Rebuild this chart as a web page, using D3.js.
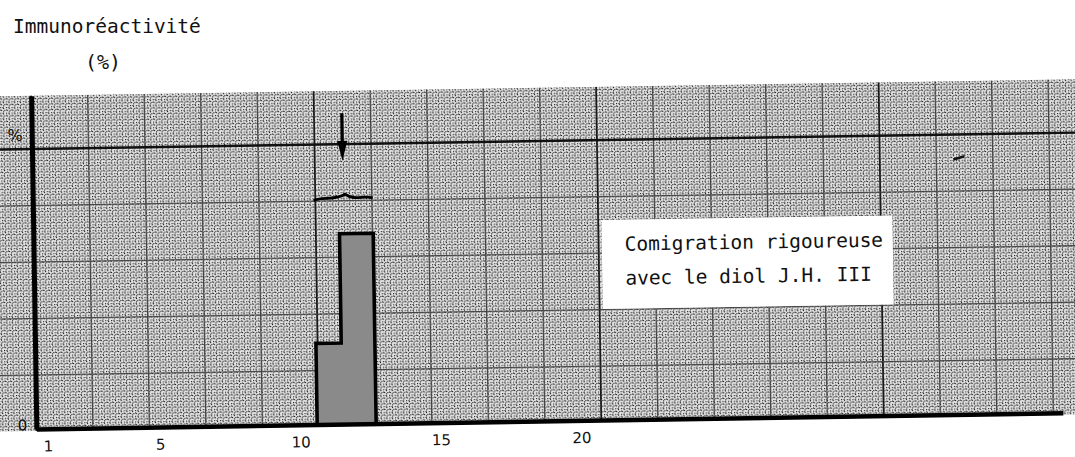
<!DOCTYPE html>
<html>
<head>
<meta charset="utf-8">
<script src="https://cdn.jsdelivr.net/npm/d3@7"></script>
<style>
body { margin: 0; background: #fff; }
svg { display: block; }
text { font-family: "DejaVu Sans Mono", monospace; fill: #111; }
</style>
</head>
<body>
<svg id="chart" width="1075" height="457"></svg>
<script>
"use strict";
// fractions on x, immunoreactivity (%) on y
var fractionTicks = [1, 5, 10, 15, 20];
var yTickValues = [0, 100];
var yTickLabels = ["0", "%"];
var binStart = [10.6, 11.5];
var binEnd = [11.5, 12.7];
var binValue = [29, 68];
var markerFraction = 11.65;   // diol J.H. III
var markerFrom = 111, markerTo = 94;
var braceValue = 81;
var titleText = "Immunoréactivité";
var unitText = "(%)";
var noteLines = ["Comigration rigoureuse", "avec le diol J.H. III"];

var bins = binStart.map(function (s, i) { return {lo: s, hi: binEnd[i], v: binValue[i]}; });

var svg = d3.select("#chart");
var x = d3.scaleLinear().domain([0.6, 37.15]).range([33.75, 1060.4]);
var y = d3.scaleLinear().domain([0, 119]).range([421, 87.8]);
var mm = 5.65;
var x0 = x.range()[0], y0 = y(100);

// millimetre paper halftone
var pat = svg.append("defs").append("pattern").attr("id", "mmpaper")
  .attr("patternUnits", "userSpaceOnUse").attr("width", mm).attr("height", mm)
  .attr("x", x0 - mm / 2).attr("y", y0 - mm / 2);
var c = mm / 2;
[[c - 1.9, c], [c + 1.2, c], [c, c - 1.9], [c, c + 1.2], [0, c - 0.5], [c - 0.5, 0], [0, 0]].forEach(function (p) {
  pat.append("rect").attr("x", p[0]).attr("y", p[1]).attr("width", 1.1).attr("height", 1.1).attr("fill", "#1e1e1e");
});

svg.append("text").attr("x", 13).attr("y", 33).style("font-size", "19.5px").text(titleText);
svg.append("text").attr("x", 85).attr("y", 69).style("font-size", "20px").text(unitText);

// the scan is slightly tilted
var g = svg.append("g").attr("transform", "rotate(-0.9,540,260)");

var paperTop = y.range()[1], paperBottom = y(0) + 2;
g.append("rect").attr("x", -30).attr("y", paperTop).attr("width", 1140)
  .attr("height", paperBottom - paperTop).attr("fill", "#e4e4e4");
g.append("rect").attr("x", -30).attr("y", paperTop).attr("width", 1140)
  .attr("height", paperBottom - paperTop).attr("fill", "url(#mmpaper)");

function gridStyle(k) {
  if (k % 50 === 0) return {c: "#1a1a1a", w: 1.7};
  return {c: "#444", w: 1.1};
}
var vk = d3.range(-10, 200, 10), hk = d3.range(-10, 60, 10);

g.append("g").selectAll("line").data(vk).join("line")
  .attr("x1", function (k) { return x0 + k * mm; })
  .attr("x2", function (k) { return x0 + k * mm; })
  .attr("y1", paperTop).attr("y2", paperBottom)
  .attr("stroke", function (k) { return gridStyle(k).c; })
  .attr("stroke-width", function (k) { return gridStyle(k).w; });

g.append("g").selectAll("line").data(hk.filter(function (k) { return y0 + k * mm >= paperTop && y0 + k * mm <= paperBottom; })).join("line")
  .attr("x1", -30).attr("x2", 1110)
  .attr("y1", function (k) { return y0 + k * mm; })
  .attr("y2", function (k) { return y0 + k * mm; })
  .attr("stroke", function (k) { return k === 0 ? "#111" : gridStyle(k).c; })
  .attr("stroke-width", function (k) { return k === 0 ? 2.4 : gridStyle(k).w; });

// histogram
var steps = [];
bins.forEach(function (d) { steps.push([d.lo, d.v], [d.hi, d.v]); });
g.append("path")
  .attr("d", d3.area().x(function (p) { return x(p[0]); }).y0(y(0)).y1(function (p) { return y(p[1]); })(steps))
  .attr("fill", "#8a8a8a");

var outline = [[bins[0].lo, 0]].concat(steps, [[bins[bins.length - 1].hi, 0]]);
g.append("path")
  .attr("d", d3.line().x(function (p) { return x(p[0]); }).y(function (p) { return y(p[1]); })(outline))
  .attr("fill", "none").attr("stroke", "#000").attr("stroke-width", 3.6).attr("stroke-linejoin", "miter");

// axes
var xAxis = g.append("g").attr("transform", "translate(0," + y(0) + ")")
  .call(d3.axisBottom(x).tickValues(fractionTicks).tickSize(0).tickPadding(12));
xAxis.select(".domain").attr("stroke", "#000").attr("stroke-width", 4.5);
xAxis.selectAll("text").style("font-size", "15px").style("font-family", "DejaVu Sans, sans-serif").attr("fill", "#111");

var yAxis = g.append("g").attr("transform", "translate(" + x(0.6) + ",0)")
  .call(d3.axisLeft(y).tickValues(yTickValues).tickSize(0).tickPadding(9)
    .tickFormat(function (d, i) { return yTickLabels[i]; }));
yAxis.select(".domain").attr("stroke", "#000").attr("stroke-width", 5);
yAxis.selectAll("text")
  .style("font-size", function (d) { return d === 100 ? "16px" : "15px"; })
  .style("font-family", "DejaVu Sans, sans-serif").attr("fill", "#111")
  .attr("dy", function (d) { return d === 100 ? "-0.55em" : "0.05em"; });

// brace over the peak
var bx0 = x(bins[0].lo), bx1 = x(bins[bins.length - 1].hi), bm = (bx0 + bx1) / 2 + 2, by = y(braceValue);
g.append("path")
  .attr("d", "M" + bx0 + "," + (by + 3) + " C" + (bx0 + 8) + "," + (by - 2) + " " + (bm - 12) + "," + (by + 4) + " " + bm + "," + (by - 3) +
    " C" + (bm + 10) + "," + (by + 4) + " " + (bx1 - 10) + "," + (by - 2) + " " + bx1 + "," + (by + 1))
  .attr("fill", "none").attr("stroke", "#000").attr("stroke-width", 2.8);

// marker arrow
var ax = x(markerFraction), aTop = y(markerFrom), aTip = y(markerTo);
g.append("line").attr("x1", ax).attr("x2", ax).attr("y1", aTop).attr("y2", aTip - 14)
  .attr("stroke", "#000").attr("stroke-width", 3.2);
g.append("path")
  .attr("d", "M" + (ax - 5) + "," + (aTip - 20) + " L" + (ax + 5) + "," + (aTip - 20) + " L" + ax + "," + aTip + "Z")
  .attr("fill", "#000");

// stray pen mark
g.append("line").attr("x1", 955).attr("y1", 166).attr("x2", 966).attr("y2", 163)
  .attr("stroke", "#111").attr("stroke-width", 2.5);

// note
var note = g.append("g");
note.append("rect").attr("x", 602).attr("y", 221).attr("width", 291).attr("height", 89).attr("fill", "#fff");
note.selectAll("text").data(noteLines).join("text")
  .attr("x", 625).attr("y", function (d, i) { return 252 + i * 34; })
  .style("font-size", "19.5px").text(function (d) { return d; });
</script>
</body>
</html>
